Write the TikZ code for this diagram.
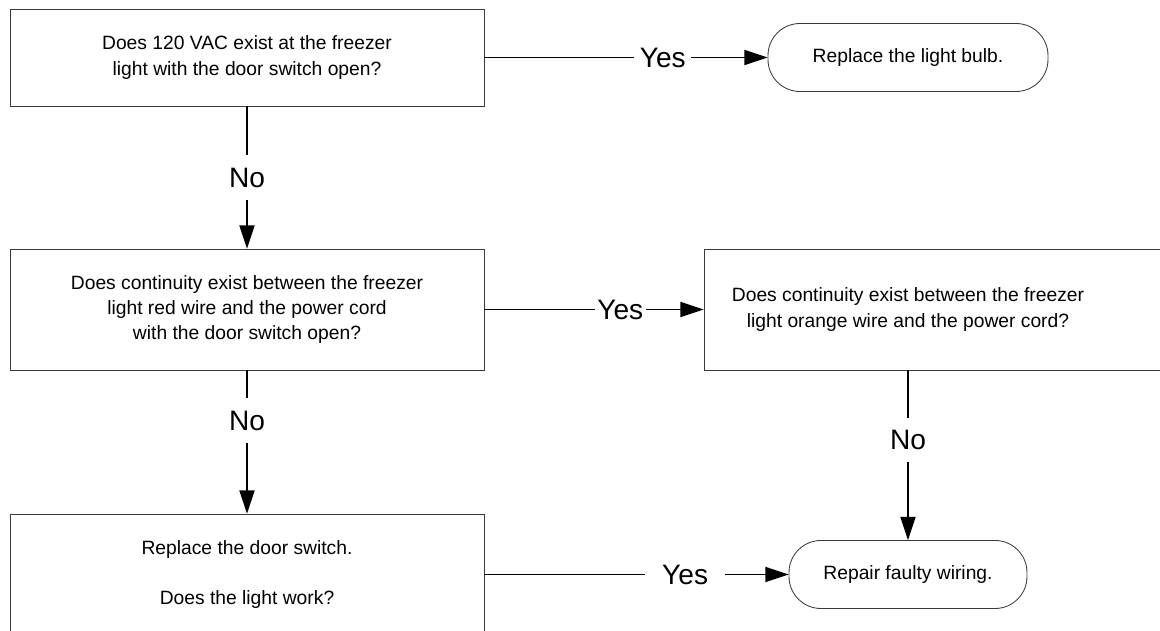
\documentclass[tikz,border=0pt]{standalone}
\usepackage{fontspec}
\setmainfont{Liberation Sans}
\usetikzlibrary{positioning, arrows.meta}
\definecolor{chart-frame}{HTML}{3A3A3A}
\definecolor{chart-line}{HTML}{000000}

\begin{document}
\begin{tikzpicture}[
    qbox/.style={draw=chart-frame, line width=0.6pt, minimum width=11.85cm, minimum height=3.025cm,
                 align=center, font=\fontsize{13.7}{18}\selectfont},
    endbox/.style={draw=chart-frame, line width=0.6pt, rounded corners=0.8cm, minimum height=1.7cm,
                   align=center, font=\fontsize{13.7}{18}\selectfont},
    arr/.style={-{Triangle[length=5.8mm, width=3.8mm]}, line width=0.9pt, chart-line},
    lbl/.style={font=\fontsize{20}{24}\selectfont, fill=white, inner xsep=4pt, inner ysep=9pt},
]
    \path[use as bounding box, clip] (0, 0) rectangle (29, 15.75);

    % Left column
    \node[qbox, minimum height=2.425cm] (volt) at (6.175, 14.3125)
        {Does 120 VAC exist at the freezer\\ light with the door switch open?};
    \node[qbox] (redwire) at (6.175, 8.0125)
        {Does continuity exist between the freezer\\ light red wire and the power cord\\ with the door switch open?};
    \node[qbox] (doorsw) at (6.175, 1.3875)
        {Replace the door switch.\\[18pt] Does the light work?};

    % Right column
    \node[endbox, minimum width=7cm] (bulb) at (22.7, 14.3125) {Replace the light bulb.};
    \node[qbox] (orange) at (23.525, 8.0125) {};
    \node[align=center, font=\fontsize{13.7}{18}\selectfont] (orangetext) at (22.7, 8.0125)
        {Does continuity exist between the freezer\\ light orange wire and the power cord?};
    \node[endbox, minimum width=5.95cm] (wiring) at (22.7, 1.3875) {Repair faulty wiring.};

    % Arrows
    \draw[arr] (volt) -- (bulb) node[lbl, pos=0.63] {Yes};
    \draw[arr] (volt) -- (redwire) node[lbl, midway] {No};
    \draw[arr] (redwire) -- (orange) node[lbl, pos=0.62, inner xsep=2pt] {Yes};
    \draw[arr] (redwire) -- (doorsw) node[lbl, pos=0.35] {No};
    \draw[arr] (orange.south -| wiring) -- (wiring) node[lbl, pos=0.41] {No};
    \draw[arr] (doorsw) -- (wiring) node[lbl, pos=0.66, inner xsep=12pt] {Yes};
\end{tikzpicture}
\end{document}
